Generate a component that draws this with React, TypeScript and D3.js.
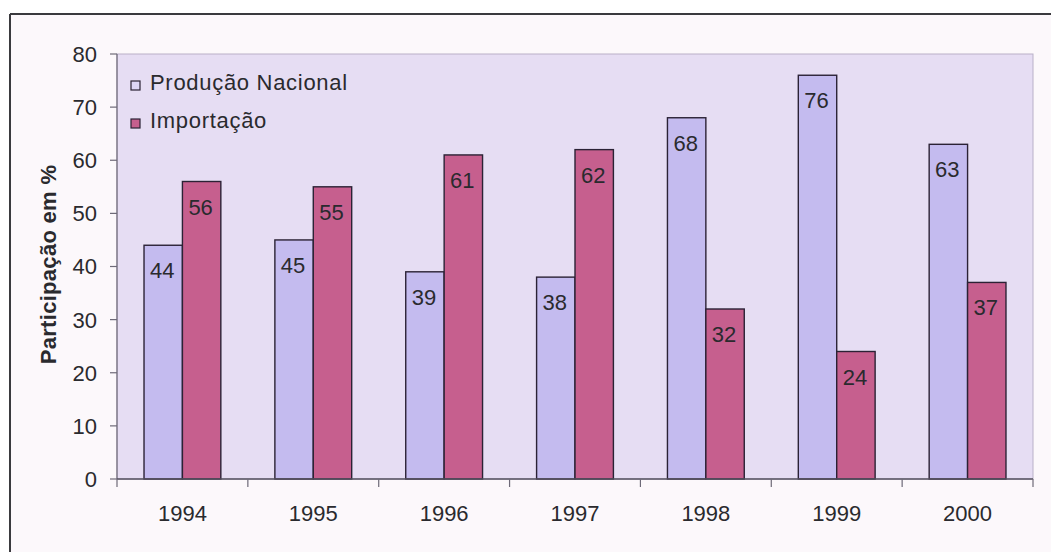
import React from "react";
import * as d3 from "d3";

// Share of the domestic market: national production vs. imports (%)
const years = ["1994", "1995", "1996", "1997", "1998", "1999", "2000"];
const seriesNames = ["Produção Nacional", "Importação"];
const producaoNacional = [44, 45, 39, 38, 68, 76, 63];
const importacao = [56, 55, 61, 62, 32, 24, 37];
const yTicks = [0, 10, 20, 30, 40, 50, 60, 70, 80];
const yTitle = "Participação em %";

const W = 1051;
const H = 552;
const plot = { left: 117, right: 1033, top: 54, bottom: 479 };
const colors = ["#c4bbef", "#c65f8e"];
const font = "'Liberation Sans', Arial, Helvetica, sans-serif";
const textColor = "#2a2a2e";

export default function App() {
  const x0 = d3.scaleBand<string>().domain(years).range([plot.left, plot.right]).padding(0);
  const bw = x0.bandwidth();
  const gap = bw * 0.413;
  const x1 = d3
    .scaleBand<string>()
    .domain(seriesNames)
    .range([gap / 2, bw - gap / 2])
    .padding(0);
  const y = d3.scaleLinear().domain([0, 80]).range([plot.bottom, plot.top]);

  const rows = years.map((yr, i) => ({
    year: yr,
    values: [producaoNacional[i], importacao[i]],
  }));

  return (
    <svg
      width={W}
      height={H}
      viewBox={`0 0 ${W} ${H}`}
      style={{ position: "absolute", left: 0, top: 0, display: "block" }}
    >
      <rect x={0} y={0} width={W} height={H} fill="#ffffff" />
      {/* chart frame */}
      <rect x={10} y={14} width={W} height={H} fill="#fcf8fb" />
      <line x1={10} y1={14} x2={W} y2={14} stroke="#3a3a3e" strokeWidth={2} />
      <line x1={10} y1={14} x2={10} y2={H} stroke="#3a3a3e" strokeWidth={2} />

      {/* plot area */}
      <rect
        x={plot.left}
        y={plot.top}
        width={plot.right - plot.left}
        height={plot.bottom - plot.top}
        fill="#e6ddf3"
        stroke="#b9b0c8"
        strokeWidth={1}
      />

      {/* y axis */}
      <line x1={plot.left} y1={plot.top} x2={plot.left} y2={plot.bottom} stroke="#6e6a78" strokeWidth={1.2} />
      {yTicks.map((t) => (
        <g key={t}>
          <line x1={plot.left - 7} x2={plot.left} y1={y(t)} y2={y(t)} stroke="#6e6a78" strokeWidth={1.2} />
          <text
            x={97}
            y={y(t)}
            dy="0.36em"
            textAnchor="end"
            fontFamily={font}
            fontSize={22}
            fill={textColor}
          >
            {t}
          </text>
        </g>
      ))}
      <text
        transform={`translate(56, ${(plot.top + plot.bottom) / 2 - 2}) rotate(-90)`}
        textAnchor="middle"
        fontFamily={font}
        fontSize={22}
        fontWeight="bold"
        letterSpacing={0.3}
        fill={textColor}
      >
        {yTitle}
      </text>

      {/* bars */}
      {rows.map((r) => (
        <g key={r.year} transform={`translate(${x0(r.year)},0)`}>
          {r.values.map((v, j) => {
            const bx = x1(seriesNames[j])!;
            const bwid = x1.bandwidth();
            return (
              <g key={j}>
                <rect
                  x={bx}
                  y={y(v)}
                  width={bwid}
                  height={y(0) - y(v)}
                  fill={colors[j]}
                  stroke="#2b2235"
                  strokeWidth={1.4}
                />
                <text
                  x={bx + bwid / 2 - 1}
                  y={y(v) + 33}
                  textAnchor="middle"
                  fontFamily={font}
                  fontSize={22}
                  fill={textColor}
                >
                  {v}
                </text>
              </g>
            );
          })}
        </g>
      ))}

      {/* x axis */}
      <line x1={plot.left} x2={plot.right} y1={plot.bottom} y2={plot.bottom} stroke="#55505e" strokeWidth={1.4} />
      {[...years.map((yr) => x0(yr)!), plot.right].map((xv, i) => (
        <line key={i} x1={xv} x2={xv} y1={plot.bottom} y2={plot.bottom + 8} stroke="#6e6a78" strokeWidth={1.2} />
      ))}
      {years.map((yr) => (
        <text
          key={yr}
          x={x0(yr)! + bw / 2}
          y={521}
          textAnchor="middle"
          fontFamily={font}
          fontSize={22}
          fill={textColor}
        >
          {yr}
        </text>
      ))}

      {/* legend */}
      {seriesNames.map((name, i) => (
        <g key={name} transform={`translate(131, ${81 + i * 38})`}>
          <rect
            x={0}
            y={0}
            width={9}
            height={9}
            fill={i === 0 ? "#ddd5f6" : colors[1]}
            stroke="#2b2235"
            strokeWidth={1.2}
          />
          <text
            x={19}
            y={8.5}
            fontFamily={font}
            fontSize={22}
            letterSpacing={0.7}
            fill={textColor}
          >
            {name}
          </text>
        </g>
      ))}
    </svg>
  );
}
